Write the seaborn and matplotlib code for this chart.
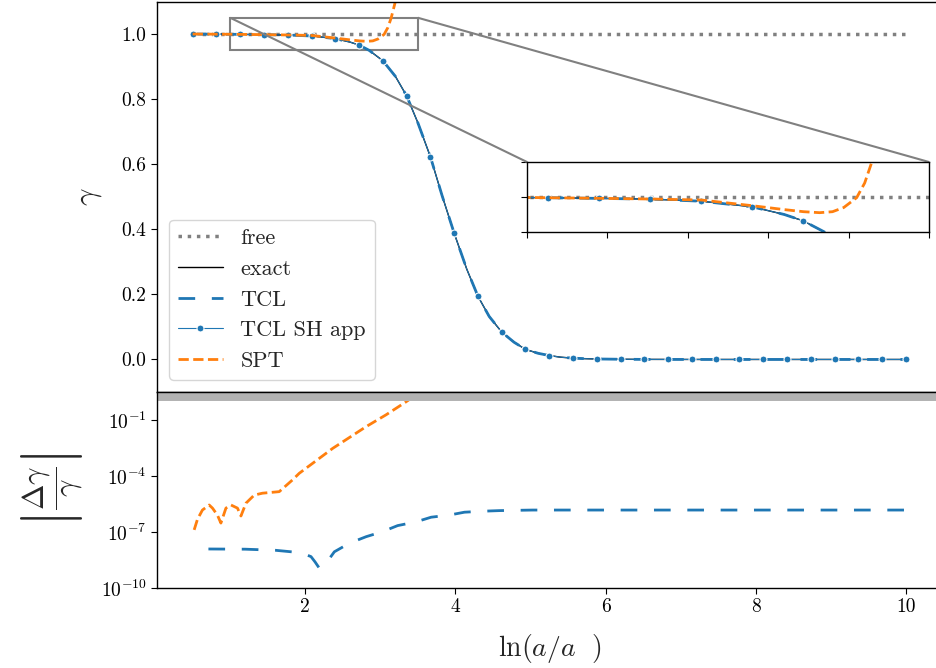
import numpy as np
import pandas as pd
import matplotlib
matplotlib.use("Agg")
import matplotlib.pyplot as plt
import seaborn as sns
from matplotlib.ticker import NullLocator, FixedLocator
from mpl_toolkits.axes_grid1.inset_locator import mark_inset

# ---------------- data ----------------
# gamma at the marker nodes (TCL SH app markers)
node_x = [0.5, 0.817, 1.133, 1.45, 1.767, 2.083, 2.4, 2.717, 3.033, 3.35,
          3.667, 3.983, 4.3, 4.617, 4.933, 5.25, 5.567, 5.883, 6.2, 6.517,
          6.833, 7.15, 7.467, 7.783, 8.1, 8.417, 8.733, 9.05, 9.367, 9.683, 10.0]
node_gamma = [1.0, 0.9995, 0.999, 0.998, 0.997, 0.994, 0.986, 0.966, 0.918, 0.810,
              0.6225, 0.388, 0.194, 0.084, 0.031, 0.012, 0.004, 0.0015, 0.0006, 0.0002,
              0.0001, 0.0, 0.0, 0.0, 0.0, 0.0, 0.0, 0.0, 0.0, 0.0, 0.0]
# extra points of the exact curve between nodes
extra_x = [2.6, 2.85, 3.2, 3.5, 3.82, 4.15, 4.45, 4.78, 5.1, 5.4, 5.72]
extra_gamma = [0.975, 0.950, 0.870, 0.727, 0.505, 0.278, 0.132, 0.053, 0.019, 0.007, 0.0025]

free_x = [0.5, 10.0]
free_gamma = [1.0, 1.0]

spt_x = [0.5, 1.0, 1.5, 1.8, 2.084, 2.4, 2.6, 2.72, 2.82, 2.9, 2.97, 3.05, 3.1, 3.144, 3.2, 3.26]
spt_gamma = [1.0, 0.9993, 0.998, 0.997, 0.9957, 0.9876, 0.982, 0.979, 0.9776, 0.979,
             0.985, 0.999, 1.02, 1.0496, 1.1, 1.17]

# relative errors |dgamma/gamma|
tcl_err_x = [0.71, 1.2, 1.6, 1.84, 2.0, 2.076, 2.13, 2.187, 2.276, 2.387, 2.587, 2.81,
             3.03, 3.23, 3.476, 3.676, 3.92, 4.12, 4.364, 4.587, 5.03, 6.0, 7.0, 8.0, 9.0, 10.0]
tcl_err = [1.23e-8, 1.2e-8, 1.05e-8, 8.5e-9, 6.3e-9, 4.8e-9, 2.5e-9, 1.15e-9, 2.1e-9, 8.7e-9,
           2.5e-8, 5.6e-8, 1.05e-7, 2.2e-7, 3.5e-7, 6.2e-7, 8.1e-7, 1.15e-6, 1.3e-6, 1.4e-6,
           1.5e-6, 1.5e-6, 1.5e-6, 1.5e-6, 1.5e-6, 1.5e-6]
spt_err_x = [0.52, 0.564, 0.63, 0.72, 0.764, 0.83, 0.876, 0.943, 1.01, 1.097, 1.143, 1.21,
             1.32, 1.43, 1.653, 1.83, 1.92, 2.364, 2.81, 3.076, 3.333, 3.6]
spt_err = [1.3e-7, 4.8e-7, 1.5e-6, 2.8e-6, 1.9e-6, 8e-7, 3.0e-7, 1.9e-6, 2.8e-6, 1.9e-6,
           7.2e-7, 3.5e-6, 9.5e-6, 1.2e-5, 1.45e-5, 6.2e-5, 1.4e-4, 3.0e-3, 4.4e-2, 0.19,
           0.89, 5.0]

gamma_ticks = [0.0, 0.2, 0.4, 0.6, 0.8, 1.0]
err_ticks = [1e-10, 1e-7, 1e-4, 1e-1]
x_ticks = [2, 4, 6, 8, 10]

# ---------------- style ----------------
sns.set_style("ticks")
plt.rcParams.update({
    "font.family": ["cmr10", "DejaVu Serif"],
    "mathtext.fontset": "cm",
    "axes.formatter.use_mathtext": True,
    "axes.unicode_minus": False,
    "axes.edgecolor": "black",
    "axes.linewidth": 1.0,
    "xtick.color": "black",
    "ytick.color": "black",
    "xtick.direction": "out",
    "ytick.direction": "out",
    "xtick.major.size": 4,
    "ytick.major.size": 4,
})

blue = "#1f77b4"
orange = "#ff7f0e"

line_df = (pd.DataFrame({"x": node_x + extra_x, "gamma": node_gamma + extra_gamma})
           .sort_values("x").reset_index(drop=True))
marker_idx = [int(i) for i in np.where(line_df["x"].isin(node_x))[0]]


def draw_gamma(ax, with_labels):
    lab = (lambda s: s) if with_labels else (lambda s: None)
    sns.lineplot(x=free_x, y=free_gamma, ax=ax, color="gray", lw=2.5,
                 linestyle=":", label=lab("free"), legend=False)
    sns.lineplot(data=line_df, x="x", y="gamma", ax=ax, color="black", lw=1.0,
                 label=lab("exact"), legend=False)
    sns.lineplot(data=line_df, x="x", y="gamma", ax=ax, color=blue, lw=2.0,
                 linestyle=(0, (6, 6)), label=lab("TCL"), legend=False)
    sns.lineplot(data=line_df, x="x", y="gamma", ax=ax, color=blue, lw=0.8,
                 marker="o", markersize=5, markevery=marker_idx,
                 label=lab("TCL SH app"), legend=False)
    sns.lineplot(x=spt_x, y=spt_gamma, ax=ax, color=orange, lw=2.0,
                 linestyle="--", label=lab("SPT"), legend=False, sort=False)


fig = plt.figure(figsize=(9.36, 6.68), dpi=100)
ax_top = fig.add_axes([157 / 936, (668 - 392) / 668, 784.6 / 936, 390.5 / 668])
ax_bot = fig.add_axes([157 / 936, (668 - 588) / 668, 784.6 / 936, 196 / 668], sharex=ax_top)

# top panel
draw_gamma(ax_top, True)
ax_top.set_ylim(-0.1, 1.1)
ax_top.yaxis.set_major_locator(FixedLocator(gamma_ticks))
ax_top.set_yticklabels([f"{t:.1f}" for t in gamma_ticks])
ax_top.tick_params(axis="x", bottom=False, labelbottom=False)
ax_top.tick_params(axis="y", labelsize=14)
ax_top.set_ylabel(r"$\gamma$", fontsize=22)
ax_top.yaxis.set_label_coords(-0.068, 0.5)
ax_top.set_xlabel("")
ax_top.legend(loc="lower left", fontsize=16, borderaxespad=0.55)

# inset
axins = fig.add_axes([527 / 936, (668 - 232) / 668, 402 / 936, 70 / 668])
draw_gamma(axins, False)
axins.set_xlim(1.0, 3.5)
axins.set_ylim(0.95, 1.05)
axins.set_xticks(np.arange(1.0, 3.51, 0.5))
axins.set_yticks([0.95, 1.0, 1.05])
axins.set_xticklabels([])
axins.set_yticklabels([])
axins.set_xlabel("")
axins.set_ylabel("")
mark_inset(ax_top, axins, loc1=2, loc2=1, fc="none", ec="0.5", lw=1.5)

# bottom panel
sns.lineplot(x=tcl_err_x, y=tcl_err, ax=ax_bot, color=blue, lw=2.0,
             linestyle=(0, (6, 6)), legend=False)
sns.lineplot(x=spt_err_x, y=spt_err, ax=ax_bot, color=orange, lw=2.0,
             linestyle="--", legend=False, sort=False)
ax_bot.set_yscale("log")
ax_bot.set_ylim(1e-10, 10 ** 0.5)
ax_bot.axhspan(1.0, 100.0, color="0.7", lw=0, zorder=2.4)
ax_bot.yaxis.set_major_locator(FixedLocator(err_ticks))
ax_bot.yaxis.set_minor_locator(NullLocator())
ax_bot.set_xticks(x_ticks)
ax_bot.set_xticklabels([str(t) for t in x_ticks])
ax_bot.tick_params(axis="both", labelsize=14)
ax_bot.set_xlim(0.025, 10.475)
ax_bot.set_ylabel(r"$\left|\dfrac{\Delta\gamma}{\gamma}\right|$", fontsize=22)
ax_bot.yaxis.set_label_coords(-0.092, 0.5)
ax_bot.set_xlabel(r"$\ln(a/a\ \ )$", fontsize=20, labelpad=11)

fig.savefig("out.png", dpi=100)
